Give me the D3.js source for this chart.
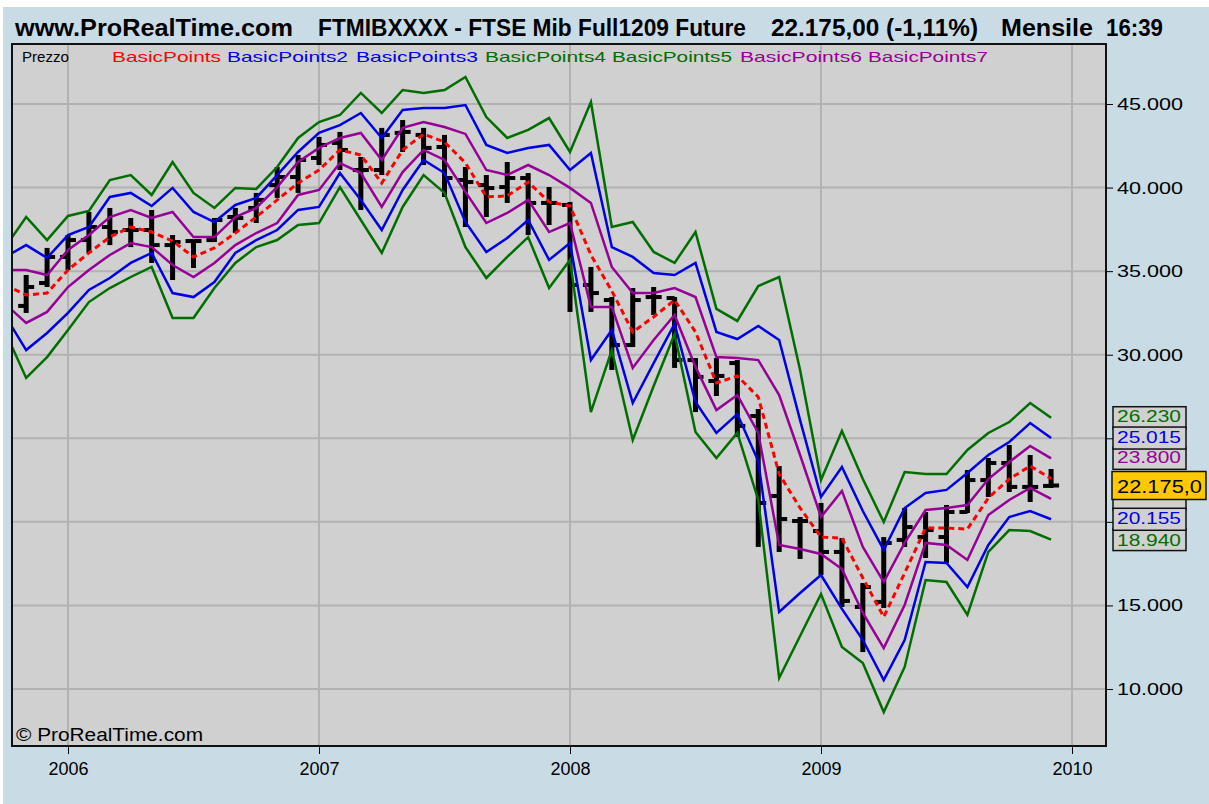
<!DOCTYPE html>
<html>
<head>
<meta charset="utf-8">
<script src="https://cdn.jsdelivr.net/npm/d3@7"></script>
<style>
  html, body { margin: 0; padding: 0; background: #fff; }
  svg { display: block; }
  text { font-family: "Liberation Sans", Arial, sans-serif; }
</style>
</head>
<body>
<svg id="chart" width="1209" height="804"></svg>
<script>
// FTSE Mib future, monthly bars + BasicPoints bands (lines start Oct 2005, bars Nov 2005)
const lineMonths = d3.timeMonth.range(new Date(2005, 9, 1), new Date(2010, 0, 1));
const barMonths = lineMonths.slice(1);

const yearTicks = [2006, 2007, 2008, 2009, 2010];
const priceTicks = [10000, 15000, 20000, 25000, 30000, 35000, 40000, 45000];

// bars: Nov05 .. Dec09
const open = [32920, 34290,
  35850, 36860, 37640, 37460, 37460, 36560, 36800, 36860, 38240, 38780, 40150, 40630,
  41770, 42670, 41050, 41050, 43270, 43150, 42430, 40450, 40150, 40030, 40570, 39080,
  38960, 34170, 33270, 30580, 33450, 33390, 29680, 28430, 29500, 26330, 21550, 20050,
  19450, 18200, 14910, 15210, 18920, 19090, 19090, 20590, 22500, 23520, 22090, 22150];
const high = [34770, 36390,
  37160, 38540, 38780, 38180, 38660, 37160, 36860, 38180, 38780, 39680, 41230, 41950,
  43030, 43330, 41830, 43570, 44040, 43570, 43150, 41230, 40750, 41530, 40870, 40030,
  39140, 35250, 33450, 33990, 34050, 33450, 29800, 29800, 29680, 26750, 23340, 20290,
  21130, 19030, 16340, 19090, 20830, 20590, 21010, 23100, 23820, 24600, 24000, 23160];
const low = [32500, 34050,
  35070, 36090, 36560, 36440, 35490, 34470, 35190, 36740, 37280, 37880, 39380, 39680,
  41350, 41050, 38660, 40750, 42130, 41350, 39440, 37640, 38240, 39080, 37160, 37760,
  32560, 32560, 29090, 30460, 32380, 29210, 26570, 27530, 25080, 18500, 18200, 17780,
  16820, 14910, 12210, 14850, 18500, 17840, 17540, 20530, 21490, 21790, 21190, 22030];
const close = [34050, 35850,
  36860, 37640, 37340, 37460, 36560, 36740, 36800, 38060, 38180, 39260, 40630, 41650,
  42550, 42250, 41050, 43150, 43330, 42370, 40570, 40330, 39970, 40570, 39080, 39080,
  34170, 33690, 30580, 33270, 33450, 29680, 28670, 28730, 25740, 21130, 20170, 20050,
  18200, 15270, 16100, 18740, 19690, 19510, 20590, 22500, 23520, 22090, 22090, 22175];

// lines: Oct05 .. Dec09
const basicPoints = [34170, 33570, 33690,
  35070, 36090, 37040, 37640, 37340, 36800, 35850, 36390, 37280, 38240, 39260, 40270,
  41050, 42250, 41950, 40270, 42250, 43200, 42730, 41470, 39440, 39500, 40330, 39140,
  38900, 35970, 33810, 31360, 32260, 33270, 31360, 28310, 28730, 27470, 22860, 20830,
  19090, 19030, 16640, 14310, 16940, 19630, 19630, 19570, 21430, 22560, 23340, 22585];
const basicPoints2 = [35850, 36560, 35790,
  37160, 37640, 39440, 39680, 38900, 39980, 38540, 37940, 38960, 39380, 40750, 42130,
  43270, 43740, 44460, 42970, 44640, 44760, 44760, 44940, 42550, 42070, 42370, 42550,
  41050, 42070, 36440, 35850, 34890, 34770, 35490, 31360, 30940, 31720, 30880, 26090,
  21490, 23280, 20650, 18320, 20830, 21730, 21910, 22920, 24000, 24780, 25910, 25015];
const basicPoints3 = [32320, 30280, 31300,
  32500, 33870, 34590, 35490, 36090, 33690, 33450, 34350, 36090, 36860, 37460, 38660,
  38840, 40870, 39260, 37460, 39860, 41650, 40870, 37940, 36150, 36980, 38060, 35670,
  36680, 29680, 31480, 27110, 29500, 31840, 27170, 25320, 26450, 23640, 14610, 15740,
  16820, 14790, 12930, 10540, 12930, 17600, 17540, 16100, 18620, 20290, 20650, 20155];
const basicPoints4 = [36440, 38240, 36860,
  38300, 38600, 40450, 40750, 39560, 41530, 39680, 38780, 39980, 39920, 41230, 42970,
  43920, 44340, 45660, 44460, 45840, 45660, 45840, 46620, 44220, 42970, 43450, 44160,
  42130, 45120, 37640, 37940, 36150, 35490, 37340, 32740, 32020, 34110, 34650, 29090,
  22500, 25440, 22560, 19990, 22980, 22860, 22860, 24300, 25320, 25970, 27110, 26230];
const basicPoints5 = [31360, 28610, 29860,
  31480, 33150, 33990, 34650, 35250, 32200, 32200, 33990, 35490, 36440, 36860, 37760,
  37880, 40030, 38060, 36090, 38840, 40750, 39680, 36440, 34590, 35850, 37040, 33990,
  35670, 26570, 30280, 24900, 28130, 31240, 25380, 23820, 25320, 21310, 10660, 13170,
  15680, 12510, 11560, 8620, 11320, 16520, 16400, 14430, 18200, 19510, 19450, 18940];
const basicPoints6 = [35070, 35070, 34770,
  36270, 37160, 38240, 38660, 38180, 38540, 37040, 37040, 38240, 38780, 40030, 41530,
  42370, 42970, 43270, 41650, 43570, 43920, 43620, 43210, 41050, 40750, 41350, 40750,
  39980, 39080, 35250, 33690, 33690, 33990, 33450, 29860, 29800, 29680, 27590, 24000,
  20290, 21850, 18500, 16400, 18740, 20710, 20830, 21010, 22560, 23580, 24540, 23800];
const basicPoints7 = [33030, 31900, 32560,
  34050, 35070, 35970, 36680, 36440, 35370, 34650, 35490, 36560, 37280, 37880, 39560,
  39860, 41470, 40870, 38840, 40930, 42250, 41650, 39740, 37880, 38480, 39260, 37340,
  37880, 32860, 32860, 29210, 30880, 32380, 29270, 26690, 27590, 25320, 18620, 18380,
  18080, 17180, 14550, 12450, 15030, 18740, 18620, 17720, 20410, 21310, 22030, 21370];

const lastPrice = 22175;

const green = "#006e00", blue = "#0000e6", purple = "#960096", red = "#ff0000";

const series = [
  { name: "BasicPoints4", values: basicPoints4, color: green },
  { name: "BasicPoints5", values: basicPoints5, color: green },
  { name: "BasicPoints2", values: basicPoints2, color: blue },
  { name: "BasicPoints3", values: basicPoints3, color: blue },
  { name: "BasicPoints6", values: basicPoints6, color: purple },
  { name: "BasicPoints7", values: basicPoints7, color: purple },
  { name: "BasicPoints", values: basicPoints, color: red, dash: "6,4" }
];

const svg = d3.select("#chart");
const plot = { left: 12, top: 44, right: 1106, bottom: 746 };

const monthIndex = d => (d.getFullYear() - 2006) * 12 + d.getMonth();
const x = d3.scaleLinear().domain([0, 48]).range([68, 1072]);
const y = d3.scaleLinear().domain([10000, 45000]).range([689, 104]);

const it = d3.formatLocale({ decimal: ",", thousands: ".", grouping: [3], currency: ["", ""] });
const fmt = it.format(",.0f");

// page
svg.append("rect").attr("width", 1209).attr("height", 804).attr("fill", "#fff");
svg.append("rect").attr("x", 3).attr("y", 7).attr("width", 1206).attr("height", 797).attr("fill", "#c9dce6");

svg.append("rect")
  .attr("x", plot.left).attr("y", plot.top)
  .attr("width", plot.right - plot.left).attr("height", plot.bottom - plot.top)
  .attr("fill", "#d0d0d0");

// grid
const grid = svg.append("g").attr("stroke", "#b2b2b2").attr("stroke-width", 2);
grid.selectAll(".gx").data(yearTicks).enter().append("line")
  .attr("x1", d => x((d - 2006) * 12)).attr("x2", d => x((d - 2006) * 12))
  .attr("y1", plot.top).attr("y2", plot.bottom);
grid.selectAll(".gy").data(priceTicks).enter().append("line")
  .attr("x1", plot.left).attr("x2", plot.right)
  .attr("y1", d => y(d)).attr("y2", d => y(d));

svg.append("clipPath").attr("id", "clip").append("rect")
  .attr("x", plot.left).attr("y", plot.top)
  .attr("width", plot.right - plot.left).attr("height", plot.bottom - plot.top);

const inner = svg.append("g").attr("clip-path", "url(#clip)");

// bars
const bars = barMonths.map((d, i) => ({ m: monthIndex(d), o: open[i], h: high[i], l: low[i], c: close[i] }));
const barG = inner.selectAll(".bar").data(bars).enter().append("g").attr("fill", "#000");
barG.append("rect")
  .attr("x", d => x(d.m) - 2.5).attr("y", d => y(d.h))
  .attr("width", 5).attr("height", d => Math.max(2, y(d.l) - y(d.h)));
barG.append("rect")
  .attr("x", d => x(d.m) - 8).attr("y", d => y(d.o) - 2)
  .attr("width", 8).attr("height", 4);
barG.append("rect")
  .attr("x", d => x(d.m)).attr("y", d => y(d.c) - 2)
  .attr("width", 8).attr("height", 4);

// band lines
const line = d3.line()
  .x((v, i) => x(monthIndex(lineMonths[i])))
  .y(v => y(v));

inner.selectAll(".band").data(series).enter().append("path")
  .attr("d", d => line(d.values))
  .attr("fill", "none")
  .attr("stroke", d => d.color)
  .attr("stroke-width", d => d.dash ? 3 : 2.5)
  .attr("stroke-dasharray", d => d.dash || null)
  .attr("stroke-linejoin", "miter");

// frame
svg.append("rect")
  .attr("x", plot.left).attr("y", plot.top)
  .attr("width", plot.right - plot.left).attr("height", plot.bottom - plot.top)
  .attr("fill", "none").attr("stroke", "#111").attr("stroke-width", 2);

// last-value labels on the right (the lower purple tag sits hidden behind the price tag)
const tags = [
  { v: basicPoints7[50], color: purple, hidden: true, dy: 0 },
  { v: basicPoints6[50], color: purple, dy: 0 },
  { v: basicPoints4[50], color: green, dy: -1 },
  { v: basicPoints5[50], color: green, dy: 1 },
  { v: basicPoints2[50], color: blue, dy: 0 },
  { v: basicPoints3[50], color: blue, dy: 0 }
];

// axes
const xAxis = svg.append("g")
  .attr("transform", `translate(0,${plot.bottom})`)
  .call(d3.axisBottom(x)
    .tickValues(yearTicks.map(d => (d - 2006) * 12))
    .tickFormat(m => 2006 + m / 12)
    .tickSize(8).tickPadding(8));
xAxis.select(".domain").remove();
xAxis.selectAll("line").attr("stroke", "#000");
xAxis.selectAll("text").attr("font-size", 18).attr("fill", "#000")
  .attr("font-family", "Liberation Sans, Arial, sans-serif");

const yAxis = svg.append("g")
  .attr("transform", `translate(${plot.right},0)`)
  .call(d3.axisRight(y).tickValues(priceTicks).tickFormat(fmt).tickSize(7).tickPadding(4));
yAxis.select(".domain").remove();
yAxis.selectAll("line").attr("stroke", "#000");
yAxis.selectAll("text").attr("font-size", 17).attr("fill", "#000")
  .attr("font-family", "Liberation Sans, Arial, sans-serif")
  .attr("textLength", 66).attr("lengthAdjust", "spacingAndGlyphs");
// tick labels covered by the value tags are not drawn
yAxis.selectAll(".tick text")
  .filter(d => tags.some(t => Math.abs(y(t.v) - y(d)) < 12) || Math.abs(y(lastPrice) - y(d)) < 14)
  .remove();

const tagG = svg.selectAll(".tag").data(tags).enter().append("g");
tagG.append("rect")
  .attr("x", 1113).attr("y", d => y(d.v) - 11).attr("width", 73).attr("height", 22)
  .attr("fill", "#d0d0d0").attr("stroke", "#111").attr("stroke-width", 1.5);
tagG.filter(d => !d.hidden).append("text")
  .attr("x", 1117).attr("y", d => y(d.v) + 5 + d.dy)
  .attr("font-size", 16).attr("fill", d => d.color)
  .attr("textLength", 64).attr("lengthAdjust", "spacingAndGlyphs")
  .text(d => fmt(d.v));

svg.append("rect")
  .attr("x", 1112).attr("y", y(lastPrice) - 14).attr("width", 94).attr("height", 28)
  .attr("fill", "#ffc800").attr("stroke", "#111").attr("stroke-width", 1.5);
svg.append("text")
  .attr("x", 1117).attr("y", y(lastPrice) + 7)
  .attr("font-size", 19).attr("fill", "#000")
  .attr("textLength", 85).attr("lengthAdjust", "spacingAndGlyphs")
  .text(it.format(",.1f")(lastPrice));

// title
const titleParts = [
  { t: "www.ProRealTime.com", x: 15, w: 278 },
  { t: "FTMIBXXXX - FTSE Mib Full1209 Future", x: 318, w: 428 },
  { t: "22.175,00 (-1,11%)", x: 771, w: 207 },
  { t: "Mensile", x: 1001, w: 92 },
  { t: "16:39", x: 1106, w: 57 }
];
svg.selectAll(".title").data(titleParts).enter().append("text")
  .attr("x", d => d.x).attr("y", 36)
  .attr("font-size", 23).attr("font-weight", "bold").attr("fill", "#000")
  .attr("textLength", d => d.w).attr("lengthAdjust", "spacingAndGlyphs")
  .text(d => d.t);

// legend
const legendItems = [
  { t: "Prezzo", color: "#000", x: 22, w: 47 },
  { t: "BasicPoints", color: red, x: 112, w: 109 },
  { t: "BasicPoints2", color: blue, x: 227, w: 121 },
  { t: "BasicPoints3", color: blue, x: 356, w: 122 },
  { t: "BasicPoints4", color: green, x: 485, w: 121 },
  { t: "BasicPoints5", color: green, x: 612, w: 120 },
  { t: "BasicPoints6", color: purple, x: 740, w: 122 },
  { t: "BasicPoints7", color: purple, x: 868, w: 120 }
];
svg.selectAll(".legend").data(legendItems).enter().append("text")
  .attr("x", d => d.x).attr("y", 62)
  .attr("font-size", 15).attr("fill", d => d.color)
  .attr("font-family", "DejaVu Sans, Verdana, sans-serif")
  .attr("textLength", d => d.w).attr("lengthAdjust", "spacingAndGlyphs")
  .text(d => d.t);

svg.append("text")
  .attr("x", 16).attr("y", 741)
  .attr("font-size", 18).attr("fill", "#000")
  .attr("textLength", 187).attr("lengthAdjust", "spacingAndGlyphs")
  .text("© ProRealTime.com");
</script>
</body>
</html>
